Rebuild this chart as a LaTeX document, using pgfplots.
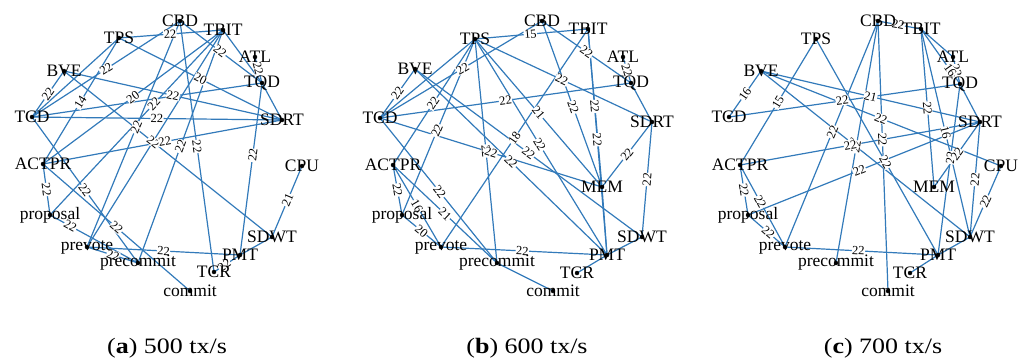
\documentclass[border=0pt]{standalone}
\usepackage{fontspec}
\setmainfont{Liberation Serif}
\usepackage{graphicx}
\usepackage{pgfplots}
\pgfplotsset{compat=1.18}
\definecolor{eb}{RGB}{50,122,186}
\newcommand\Eline[6]{\addplot[eb, line width=1.2pt, mark=none] coordinates {(#1,#2) (#3,#4)};}
\newcommand\Elab[6]{\addplot[draw=none, mark=none] coordinates {(#1,#2) (#3,#4)} node[sloped, pos=#5, fill=white, inner sep=0.4pt, text=black, font=\fontsize{12.5}{13}\selectfont] {#6};}
\newcommand\Nline[4]{\addplot[eb, line width=1.2pt, mark=none] coordinates {(#1,#2) (#3,#4)};}
\newcommand\Nnone[4]{}
% ---------- panel (a) ----------
\def\edgesA{%
\EE{223}{30}{119}{38}{0.51}{22}%
\EE{180}{21}{32}{117}{0.5}{22}%
\EE{64}{71}{32}{117}{0.5}{22}%
\EE{119}{38}{43}{164}{0.51}{14}%
\EE{119}{38}{282}{120}{0.5}{20}%
\EE{223}{30}{43}{164}{0.5}{20}%
\NN{262}{83}{32}{117}%
\EE{64}{71}{282}{120}{0.5}{22}%
\EE{32}{117}{282}{120}{0.5}{22}%
\EE{180}{21}{262}{83}{0.49}{22}%
\NN{223}{30}{262}{83}%
\EE{255}{57}{262}{83}{0.45}{22}%
\NN{262}{83}{282}{120}%
\EE{262}{83}{240}{255}{0.42}{22}%
\EE{180}{21}{214}{272}{0.5}{22}%
\EE{64}{71}{272}{237}{0.43}{22}%
\EE{272}{237}{302}{166}{0.52}{21}%
\NN{272}{237}{240}{255}%
\EE{240}{255}{214}{272}{0.6}{22}%
\EE{87}{247}{240}{255}{0.5}{22}%
\EE{43}{164}{50}{215}{0.5}{22}%
\EE{50}{215}{138}{263}{0.23}{22}%
\EE{87}{247}{138}{263}{0.5}{22}%
\EE{32}{117}{138}{263}{0.5}{22}%
\EE{43}{164}{190}{291}{0.5}{22}%
\EE{43}{164}{282}{120}{0.51}{22}%
\EE{180}{21}{87}{247}{0.47}{22}%
\EE{223}{30}{50}{215}{0.4}{22}%
\EE{223}{30}{138}{263}{0.5}{22}%
\NN{119}{38}{32}{117}%
\NN{223}{30}{87}{247}%
}
% ---------- panel (b) ----------
\def\edgesB{%
\EE{588}{29}{475}{39}{0.51}{15}%
\EE{542}{21}{380}{118}{0.49}{22}%
\EE{415}{69}{380}{118}{0.5}{22}%
\EE{475}{39}{393}{165}{0.51}{22}%
\EE{475}{39}{402}{215}{0.52}{22}%
\NN{475}{39}{380}{118}%
\EE{475}{39}{497}{263}{0.5}{22}%
\EE{475}{39}{602}{187}{0.5}{21}%
\EE{475}{39}{607}{255}{0.49}{22}%
\EE{475}{39}{652}{122}{0.49}{22}%
\EE{542}{21}{631}{83}{0.5}{22}%
\EE{542}{21}{602}{187}{0.52}{22}%
\EE{588}{29}{602}{187}{0.49}{22}%
\EE{588}{29}{607}{255}{0.49}{22}%
\EE{588}{29}{441}{247}{0.5}{18}%
\EE{380}{118}{631}{83}{0.5}{22}%
\EE{380}{118}{602}{187}{0.5}{22}%
\EE{380}{118}{497}{263}{0.51}{22}%
\EE{415}{69}{642}{237}{0.5}{22}%
\EE{415}{69}{607}{255}{0.5}{22}%
\EE{393}{165}{497}{263}{0.5}{21}%
\EE{393}{165}{402}{215}{0.5}{22}%
\EE{393}{165}{441}{247}{0.5}{16}%
\EE{402}{215}{441}{247}{0.5}{20}%
\EE{441}{247}{607}{255}{0.49}{22}%
\NN{497}{263}{553}{291}%
\NN{607}{255}{577}{273}%
\NN{607}{255}{642}{237}%
\EE{642}{237}{652}{122}{0.5}{22}%
\EE{602}{187}{652}{122}{0.5}{22}%
\NN{602}{187}{607}{255}%
\NN{631}{83}{652}{122}%
\EE{623}{57}{631}{83}{0.5}{22}%
}
% ---------- panel (c) ----------
\def\edgesC{%
\EE{878}{21}{921}{29}{0.47}{22}%
\EE{761}{71}{729}{117}{0.5}{16}%
\EE{816}{39}{740}{165}{0.5}{15}%
\EE{816}{39}{938}{255}{0.57}{22}%
\EE{761}{71}{980}{122}{0.5}{21}%
\EE{729}{117}{960}{84}{0.49}{22}%
\EE{761}{71}{1001}{166}{0.5}{22}%
\EE{761}{71}{970}{237}{0.44}{22}%
\EE{878}{21}{785}{247}{0.49}{22}%
\EE{878}{21}{836}{263}{0.52}{22}%
\EE{878}{21}{888}{291}{0.44}{22}%
\EE{921}{29}{934}{187}{0.5}{22}%
\EE{921}{29}{970}{237}{0.5}{16}%
\NN{921}{29}{953}{57}%
\EE{953}{57}{960}{84}{0.5}{22}%
\EE{921}{29}{960}{84}{0.75}{16}%
\NN{960}{84}{980}{122}%
\EE{960}{84}{938}{255}{0.43}{22}%
\EE{980}{122}{740}{165}{0.54}{22}%
\EE{980}{122}{748}{215}{0.52}{22}%
\EE{980}{122}{934}{187}{0.5}{22}%
\EE{980}{122}{970}{237}{0.5}{22}%
\EE{1001}{166}{970}{237}{0.5}{22}%
\NN{970}{237}{938}{255}%
\NN{938}{255}{910}{273}%
\EE{785}{247}{938}{255}{0.48}{22}%
\EE{740}{165}{748}{215}{0.5}{22}%
\EE{740}{165}{785}{247}{0.45}{22}%
\EE{748}{215}{785}{247}{0.55}{22}%
}
\begin{document}
\begin{tikzpicture}
\begin{axis}[
  scale only axis, width=1025pt, height=362pt,
  xmin=0, xmax=1025, ymin=0, ymax=362, y dir=reverse,
  hide axis, clip=false]
\coordinate (SW) at (rel axis cs:0,0);
\coordinate (NE) at (rel axis cs:1,1);
% lines
\let\EE\Eline \let\NN\Nline
\edgesA \edgesB \edgesC
% edge labels
\let\EE\Elab \let\NN\Nnone
\edgesA \edgesB \edgesC
% nodes
\addplot[only marks, mark=*, mark size=2pt, black,
  nodes near coords, point meta=explicit symbolic,
  every node near coord/.style={anchor=center, text=black, font=\fontsize{17.5}{18}\selectfont}]
  table[meta=n] {
x y n
180 21 CBD
223 30 TBIT
119 38 TPS
255 57 ATL
64 71 BVE
262 83 TQD
32 117 TCD
282 120 SDRT
43 164 ACTPR
302 166 CPU
50 215 proposal
272 237 SDWT
87 247 prevote
240 255 PMT
138 263 precommit
214 272 TCR
190 291 commit
542 21 CBD
588 29 TBIT
475 39 TPS
623 57 ATL
415 69 BVE
631 83 TQD
380 118 TCD
652 122 SDRT
393 165 ACTPR
602 187 MEM
402 215 proposal
642 237 SDWT
441 247 prevote
607 255 PMT
497 263 precommit
577 273 TCR
553 291 commit
878 21 CBD
921 29 TBIT
816 39 TPS
953 57 ATL
761 71 BVE
960 84 TQD
729 117 TCD
980 122 SDRT
740 165 ACTPR
1001 166 CPU
934 187 MEM
748 215 proposal
970 237 SDWT
785 247 prevote
938 255 PMT
836 263 precommit
910 273 TCR
888 291 commit
};
\node[font=\fontsize{22}{24}\selectfont] at (axis cs:167,348) {\scalebox{1.18}[1]{(\textbf{a}) 500 tx/s}};
\node[font=\fontsize{22}{24}\selectfont] at (axis cs:527,348) {\scalebox{1.18}[1]{(\textbf{b}) 600 tx/s}};
\node[font=\fontsize{22}{24}\selectfont] at (axis cs:883,348) {\scalebox{1.18}[1]{(\textbf{c}) 700 tx/s}};
\end{axis}
\pgfresetboundingbox
\useasboundingbox (SW) rectangle (NE);
\end{tikzpicture}
\end{document}
